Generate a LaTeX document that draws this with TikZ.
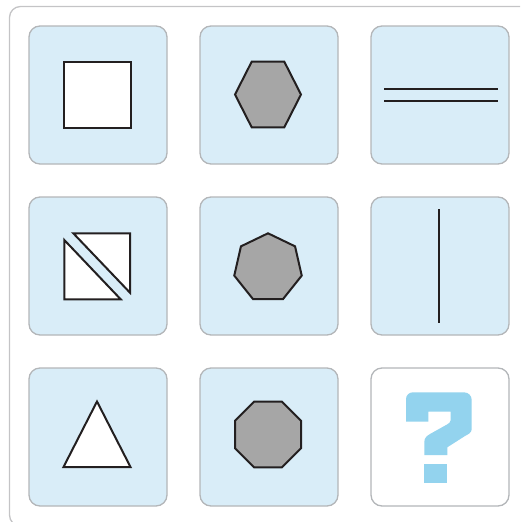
\documentclass[tikz,border=0pt]{standalone}
\usetikzlibrary{calc}
\definecolor{cellfill}{HTML}{D9EDF8}
\definecolor{cellline}{HTML}{B3B6B9}
\definecolor{frameline}{HTML}{C4C4C6}
\definecolor{shapegray}{HTML}{A6A6A6}
\definecolor{ink}{HTML}{231F20}
\definecolor{qblue}{HTML}{93D3EE}
\tikzset{
  cellbox/.style={draw=cellline, line width=1.3pt, fill=cellfill, rounded corners=11pt,
    minimum width=138pt, minimum height=138pt, inner sep=0pt},
  qbox/.style={cellbox, fill=white},
  figline/.style={draw=ink, line width=2pt, line join=miter},
  figwhite/.style={figline, fill=white},
  figgray/.style={figline, fill=shapegray},
}
\begin{document}
\begin{tikzpicture}[x=1pt,y=-1pt]
\useasboundingbox (0,0) rectangle (520,522);
\begin{scope}
\clip (0,0) rectangle (520,522);
\draw[frameline, line width=1.3pt, rounded corners=11pt] (9.5,6.5) rectangle (540,526);
\end{scope}
% cells
\node[cellbox] (c11) at (98,95) {};
\node[cellbox] (c12) at (269,95) {};
\node[cellbox] (c13) at (440,95) {};
\node[cellbox] (c21) at (98,266) {};
\node[cellbox] (c22) at (269,266) {};
\node[cellbox] (c23) at (440,266) {};
\node[cellbox] (c31) at (98,437) {};
\node[cellbox] (c32) at (269,437) {};
\node[qbox] (c33) at (440,437) {};
% row 1
\draw[figwhite] (63.5,62) rectangle (130.5,127.5);
\draw[figgray] (235,94.5) -- (251.7,61.7) -- (284.3,61.7) -- (301,94.5) -- (284.3,127.3) -- (251.7,127.3) -- cycle;
\draw[figline] (384,88.5) -- (498,88.5);
\draw[figline] (384,100.5) -- (498,100.5);
% row 2
\draw[figwhite] (73.3,233.3) -- (130,233.3) -- (130,292.7) -- cycle;
\draw[figwhite] (64.3,240) -- (64.3,299.3) -- (120.7,299.3) -- cycle;
\coordinate (hc) at (268,267.9);
\draw[figgray] ($(hc)+(0,-34.6)$)
  \foreach \k in {1,...,6} { -- ($(hc)+({34.6*sin(\k*360/7)},{-34.6*cos(\k*360/7)})$) } -- cycle;
\draw[figline] (438.7,209) -- (438.7,323.3);
% row 3
\draw[figwhite] (63.5,467) -- (130.5,467) -- (97,401.5) -- cycle;
\draw[figgray] (254,401.7) -- (282,401.7) -- (301,420.7) -- (301,448.3) -- (282,467.3) -- (254,467.3) -- (235,448.3) -- (235,420.7) -- cycle;
% question mark
\fill[qblue] (406,421.7) -- (406,399) to[out=90,in=180] (413,392.3) -- (464,392.3) to[out=0,in=90] (471.7,400)
  -- (471.7,429) to[out=-90,in=30] (465,436) -- (447.3,447.3) -- (447.3,455) -- (424.3,455) -- (424.3,442)
  to[out=90,in=210] (430,434) -- (447,424.5) to[out=30,in=-90] (450.7,420) -- (450.7,411.7) -- (428.3,411.7) -- (428.3,421.7) -- cycle;
\fill[qblue] (424.3,464) rectangle (447.3,483.3);
\end{tikzpicture}
\end{document}
